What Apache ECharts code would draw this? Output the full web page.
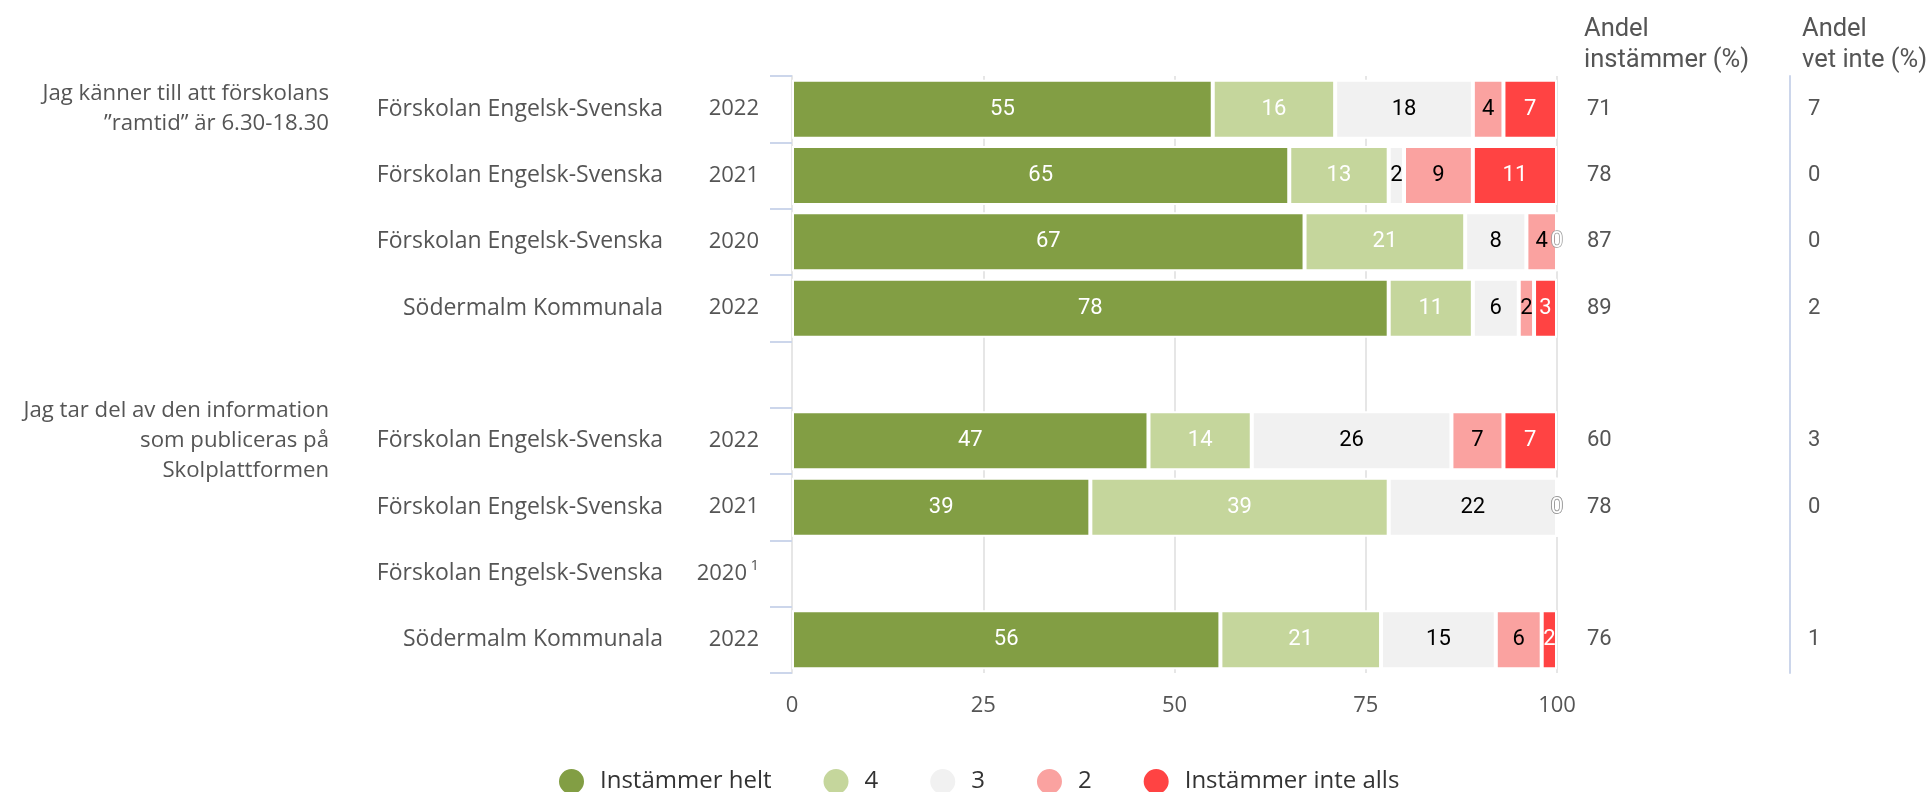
<!DOCTYPE html>
<html><head><meta charset="utf-8">
<script src="https://cdn.jsdelivr.net/npm/echarts/dist/echarts.min.js"></script>
<style>html,body{margin:0;padding:0;background:#fff}#c{width:1932px;height:792px}</style>
</head><body><div id="c"></div>
<script>
// ---- data ----
const groupLabels = ['Jag känner till att förskolans\n”ramtid” är 6.30-18.30', '', '', '', '', 'Jag tar del av den information\nsom publiceras på\nSkolplattformen', '', '', ''];
const unitNames = ['Förskolan Engelsk-Svenska', 'Förskolan Engelsk-Svenska', 'Förskolan Engelsk-Svenska', 'Södermalm Kommunala', '', 'Förskolan Engelsk-Svenska', 'Förskolan Engelsk-Svenska', 'Förskolan Engelsk-Svenska', 'Södermalm Kommunala'];
const years = ['2022', '2021', '2020', '2022', '', '2022', '2021', '2020', '2022'];
const notes = ['', '', '', '', '', '', '', '1', ''];
const seriesNames = ['Instämmer helt', '4', '3', '2', 'Instämmer inte alls'];
const instammerHelt = [55, 65, 67, 78, null, 46.6, 39, null, 56];
const svar4 = [16, 13, 21, 11, null, 13.5, 39, null, 21];
const svar3 = [18, 2, 8, 6, null, 26.1, 22, null, 15];
const svar2 = [4, 9, 4, 2, null, 6.8, 0, null, 6];
const instammerInteAlls = [7, 11, 0, 3, null, 7.0, 0, null, 2];
const andelInstammer = [71, 78, 87, 89, null, 60, 78, null, 76];
const andelVetInte = [7, 0, 0, 2, null, 3, 0, null, 1];
const headers = ['Andel\ninstämmer (%)', 'Andel\nvet inte (%)'];
const xMin = 0, xMax = 100, xStep = 25;

// ---- styles ----
const colors = ['#829e44', '#c5d69c', '#f1f1f1', '#faa2a0', '#ff4343'];
const labelColors = ['#fff', '#fff', '#000', '#000', '#fff'];
const FONT = 'Open Sans';
const NUMFONT = 'Roboto';
const TXT = '#555';
const rowIds = unitNames.map((_, i) => 'r' + i);
const seriesData = [instammerHelt, svar4, svar3, svar2, instammerInteAlls];

const chart = echarts.init(document.getElementById('c'), null, {renderer: 'canvas'});
chart.setOption({
  animation: false,
  textStyle: {fontFamily: FONT},
  title: [
    {text: headers[0], left: 1579, top: 9, textStyle: {fontFamily: NUMFONT, fontSize: 25.5, lineHeight: 31, fontWeight: 'normal', color: TXT}},
    {text: headers[1], left: 1797, top: 9, textStyle: {fontFamily: NUMFONT, fontSize: 25.5, lineHeight: 31, fontWeight: 'normal', color: TXT}}
  ],
  legend: {
    left: 552, top: 762,
    icon: 'circle', itemWidth: 27, itemHeight: 27, itemGap: 50,
    data: seriesNames,
    textStyle: {fontFamily: FONT, fontSize: 24, color: '#333', padding: [0, 0, 0, 10]}
  },
  grid: {left: 792, right: 375, top: 76, bottom: 119, containLabel: false},
  xAxis: {
    type: 'value', min: xMin, max: xMax, interval: xStep,
    axisLine: {show: false}, axisTick: {show: false},
    splitLine: {show: true, lineStyle: {color: '#e6e6e6', width: 2}},
    axisLabel: {margin: 22, fontFamily: FONT, fontSize: 22, color: TXT}
  },
  yAxis: [
    {
      type: 'category', inverse: true, data: rowIds,
      axisLine: {show: true, lineStyle: {color: '#e6e6e6', width: 2}},
      axisTick: {show: true, length: 22, lineStyle: {color: '#ccd6eb', width: 2}},
      axisLabel: {
        interval: 0, margin: 33, color: TXT, fontFamily: FONT, fontSize: 23,
        formatter: (v, i) => {
          if (!unitNames[i]) return '';
          if (notes[i]) return '{n|' + unitNames[i] + '}{y2|' + years[i] + '}{sup|' + notes[i] + '}';
          return '{n|' + unitNames[i] + '}{y|' + years[i] + '}';
        },
        rich: {
          n: {fontFamily: FONT, fontSize: 23, color: TXT, lineHeight: 30},
          y: {fontFamily: FONT, fontSize: 22, color: TXT, width: 96, align: 'right', lineHeight: 30},
          y2: {fontFamily: FONT, fontSize: 22, color: TXT, width: 84, align: 'right', lineHeight: 30},
          sup: {fontFamily: FONT, fontSize: 15, color: TXT, width: 12, align: 'right', lineHeight: 15, verticalAlign: 'top'}
        }
      }
    },
    {
      type: 'category', inverse: true, data: rowIds, position: 'left',
      axisLine: {show: false}, axisTick: {show: false},
      axisLabel: {interval: 0, margin: 463, color: TXT, fontFamily: FONT, fontSize: 22.2, lineHeight: 30, align: 'right',
        formatter: (v, i) => groupLabels[i]}
    },
    {
      type: 'category', inverse: true, data: rowIds, position: 'right',
      axisLine: {show: false}, axisTick: {show: false},
      axisLabel: {interval: 0, margin: 30, align: 'left', color: TXT, fontFamily: NUMFONT, fontSize: 22,
        formatter: (v, i) => andelInstammer[i] == null ? '' : String(andelInstammer[i])}
    },
    {
      type: 'category', inverse: true, data: rowIds, position: 'right', offset: 233,
      axisLine: {show: true, lineStyle: {color: '#ccd6eb', width: 2}}, axisTick: {show: false},
      axisLabel: {interval: 0, margin: 18, align: 'left', color: TXT, fontFamily: NUMFONT, fontSize: 22,
        formatter: (v, i) => andelVetInte[i] == null ? '' : String(andelVetInte[i])}
    }
  ],
  series: seriesNames.map((name, k) => ({
    name, type: 'bar', stack: 'total', yAxisIndex: 0, barWidth: '89%',
    data: seriesData[k],
    itemStyle: {color: colors[k], borderColor: '#fff', borderWidth: 2},
    label: {
      show: true, position: 'inside', fontFamily: NUMFONT, fontSize: 22, color: labelColors[k],
      formatter: p => p.value === 0 ? '{z|0}' : String(Math.round(p.value)),
      rich: {z: {color: '#fff', textBorderColor: '#999', textBorderWidth: 1.5, fontFamily: NUMFONT, fontSize: 22}}
    },
    emphasis: {disabled: true}
  }))
});
</script></body></html>
